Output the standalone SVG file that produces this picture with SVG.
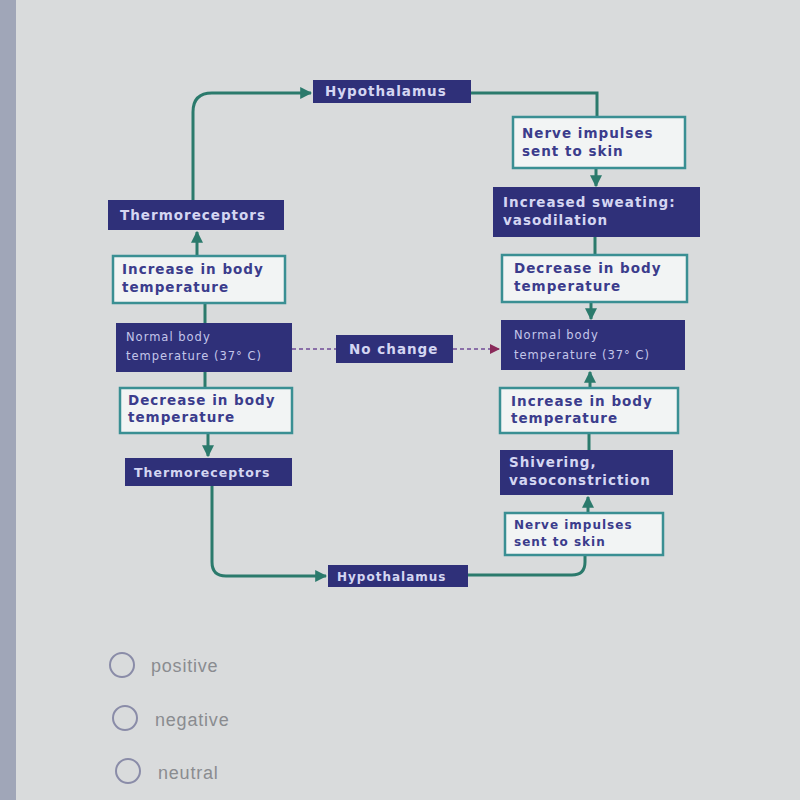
<svg xmlns="http://www.w3.org/2000/svg" width="800" height="800" viewBox="0 0 800 800">
<style>
.dk{fill:#2f3079}
.lt{fill:#f2f4f4;stroke:#3a8f93;stroke-width:2.5}
.tw{fill:#d4d6f2;font-family:"DejaVu Sans",Verdana,sans-serif;font-weight:bold;font-size:13.5px;letter-spacing:1px}
.tb{fill:#3b3c8c;font-family:"DejaVu Sans",Verdana,sans-serif;font-weight:bold;font-size:13.5px;letter-spacing:1px}
.ts{fill:#c4c6ea;font-family:"DejaVu Sans",Verdana,sans-serif;font-size:11.5px;letter-spacing:1px}
.ln{fill:none;stroke:#2b7a6c;stroke-width:3}
.dash{fill:none;stroke:#8a6fa8;stroke-width:2;stroke-dasharray:4 3}
.opt{fill:#8a8c90;font-family:"Liberation Sans",Arial,sans-serif;font-size:18px;letter-spacing:0.8px}
.rad{fill:none;stroke:#8a8ca8;stroke-width:2}
</style>
<defs>
<marker id="ar" viewBox="0 0 10 10" refX="9" refY="5" markerWidth="4" markerHeight="4" orient="auto"><path d="M0,0 L10,5 L0,10 Z" fill="#2b7a6c"/></marker>
<marker id="ap" viewBox="0 0 10 10" refX="9" refY="5" markerWidth="5" markerHeight="5" orient="auto"><path d="M0,0 L10,5 L0,10 Z" fill="#8a2a5a"/></marker>
</defs>
<rect width="800" height="800" fill="#d9dbdc"/>
<rect x="0" y="0" width="16" height="800" fill="#a0a6b8"/>

<g id="connectors">
<path class="ln" d="M193,200 V112 Q193,93 212,93 H311" marker-end="url(#ar)"/>
<path class="ln" d="M471,93 H597 V117"/>
<path class="ln" d="M596,168 V186" marker-end="url(#ar)"/>
<path class="ln" d="M595,237 V255"/>
<path class="ln" d="M591,302 V319" marker-end="url(#ar)"/>
<path class="ln" d="M197,255 V232" marker-end="url(#ar)"/>
<path class="ln" d="M205,323 V303"/>
<path class="ln" d="M205,372 V388"/>
<path class="ln" d="M208,433 V456" marker-end="url(#ar)"/>
<path class="ln" d="M212,486 V562 Q212,576 226,576 H326" marker-end="url(#ar)"/>
<path class="ln" d="M468,575 H572 Q585,575 585,562 V555"/>
<path class="ln" d="M588,513 V497" marker-end="url(#ar)"/>
<path class="ln" d="M589,450 V433"/>
<path class="ln" d="M590,388 V372" marker-end="url(#ar)"/>
<path class="dash" d="M292,349 H336"/>
<path class="dash" d="M453,349 H499" marker-end="url(#ap)"/>
</g>

<g id="hypothalamus-top"><rect class="dk" x="313" y="80" width="158" height="23"/><text class="tw" x="325" y="96">Hypothalamus</text></g>
<g id="nerve-top"><rect class="lt" x="513" y="117" width="172" height="51"/><text class="tb" x="522" y="138">Nerve impulses</text><text class="tb" x="522" y="156">sent to skin</text></g>
<g id="sweating"><rect class="dk" x="493" y="187" width="207" height="50"/><text class="tw" x="503" y="207">Increased sweating:</text><text class="tw" x="503" y="225">vasodilation</text></g>
<g id="thermo-top"><rect class="dk" x="108" y="200" width="176" height="30"/><text class="tw" x="120" y="220">Thermoreceptors</text></g>
<g id="increase-left"><rect class="lt" x="113" y="256" width="172" height="47"/><text class="tb" x="122" y="274">Increase in body</text><text class="tb" x="122" y="292">temperature</text></g>
<g id="decrease-right"><rect class="lt" x="502" y="255" width="185" height="47"/><text class="tb" x="514" y="273">Decrease in body</text><text class="tb" x="514" y="291">temperature</text></g>
<g id="normal-left"><rect class="dk" x="116" y="323" width="176" height="49"/><text class="ts" x="126" y="341">Normal body</text><text class="ts" x="126" y="360">temperature (37° C)</text></g>
<g id="nochange"><rect class="dk" x="336" y="335" width="117" height="28"/><text class="tw" x="349" y="354">No change</text></g>
<g id="normal-right"><rect class="dk" x="501" y="320" width="184" height="50"/><text class="ts" x="514" y="339">Normal body</text><text class="ts" x="514" y="359">temperature (37° C)</text></g>
<g id="decrease-left"><rect class="lt" x="120" y="388" width="172" height="45"/><text class="tb" x="128" y="405">Decrease in body</text><text class="tb" x="128" y="422">temperature</text></g>
<g id="increase-right"><rect class="lt" x="500" y="388" width="178" height="45"/><text class="tb" x="511" y="406">Increase in body</text><text class="tb" x="511" y="423">temperature</text></g>
<g id="thermo-bottom"><rect class="dk" x="125" y="458" width="167" height="28"/><text class="tw" x="134" y="477" style="font-size:12.5px">Thermoreceptors</text></g>
<g id="shivering"><rect class="dk" x="500" y="450" width="173" height="45"/><text class="tw" x="509" y="467">Shivering,</text><text class="tw" x="509" y="485">vasoconstriction</text></g>
<g id="nerve-bottom"><rect class="lt" x="505" y="513" width="158" height="42"/><text class="tb" x="514" y="529" style="font-size:12px">Nerve impulses</text><text class="tb" x="514" y="546" style="font-size:12px">sent to skin</text></g>
<g id="hypothalamus-bottom"><rect class="dk" x="328" y="565" width="140" height="22"/><text class="tw" x="337" y="581" style="font-size:12px">Hypothalamus</text></g>

<g id="options">
<circle class="rad" cx="122" cy="665" r="12"/><text class="opt" x="151" y="672">positive</text>
<circle class="rad" cx="125" cy="718" r="12"/><text class="opt" x="155" y="726">negative</text>
<circle class="rad" cx="128" cy="771" r="12"/><text class="opt" x="158" y="779">neutral</text>
</g>
</svg>
